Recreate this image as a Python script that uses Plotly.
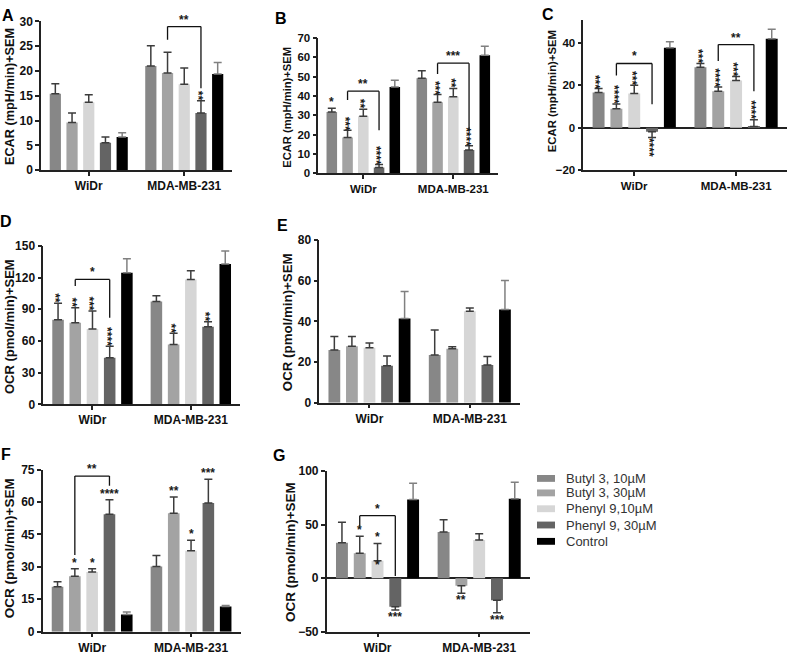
import plotly.graph_objects as go

W, H = 789, 656
FONT = "Liberation Sans, Arial, sans-serif"

groups = ["WiDr", "MDA-MB-231"]
series_names = ["Butyl 3, 10µM", "Butyl 3, 30µM", "Phenyl 9,10µM", "Phenyl 9, 30µM", "Control"]
colors = ["#878787", "#a3a3a3", "#d6d6d6", "#646464", "#000000"]
err_colors = ["#3c3c3c", "#3c3c3c", "#3c3c3c", "#3c3c3c", "#808080"]

# ---- data: per series [WiDr, MDA-MB-231] ----
A_mean = [[15.4, 21.0], [9.6, 19.6], [13.7, 17.3], [5.5, 11.5], [6.7, 19.4]]
A_sem = [[2.0, 4.1], [1.9, 4.2], [1.5, 3.3], [1.2, 2.5], [0.85, 2.3]]

B_mean = [[31.7, 49.2], [18.6, 36.8], [29.5, 39.6], [3.0, 12.1], [44.7, 61.1]]
B_sem = [[2.0, 3.9], [3.7, 4.0], [3.7, 4.3], [1.6, 2.2], [3.4, 4.7]]

C_mean = [[16.6, 28.5], [8.9, 17.2], [16.2, 22.3], [-1.85, 0.6], [37.7, 42.0]]
C_sem = [[1.9, 1.8], [2.3, 2.0], [3.8, 1.9], [2.75, 3.2], [2.8, 4.5]]

D_mean = [[80.0, 97.2], [77.2, 56.5], [71.3, 118.2], [44.1, 73.5], [124.4, 132.7]]
D_sem = [[15.7, 5.6], [14.2, 10.8], [17.0, 8.3], [10.8, 4.6], [13.3, 12.3]]

E_mean = [[25.9, 23.5], [27.8, 26.5], [27.0, 45.0], [18.2, 18.6], [41.4, 45.9]]
E_sem = [[6.7, 12.3], [4.8, 1.0], [2.4, 1.6], [4.8, 4.1], [13.4, 14.3]]

F_mean = [[20.8, 30.2], [25.7, 54.8], [27.6, 37.4], [54.3, 59.6], [8.0, 11.6]]
F_sem = [[2.3, 5.0], [3.4, 7.5], [1.5, 4.9], [6.8, 10.9], [1.1, 0.5]]

G_mean = [[33.1, 43.2], [23.4, -7.0], [16.4, 35.6], [-26.7, -20.7], [73.6, 74.2]]
G_sem = [[19.2, 11.5], [15.8, 7.0], [16.1, 6.0], [3.1, 11.5], [15.2, 15.5]]

# significance marks: (group, bar, text, rotated)
A_stars = [(1, 3, "**", True)]
B_stars = [(0, 0, "*", False), (0, 1, "***", True), (0, 2, "**", True), (0, 3, "****", True),
           (1, 1, "***", True), (1, 2, "**", True), (1, 3, "****", True)]
C_stars = [(0, 0, "***", True), (0, 1, "****", True), (0, 2, "***", True), (0, 3, "****", True),
           (1, 0, "***", True), (1, 1, "****", True), (1, 2, "***", True), (1, 3, "****", True)]
D_stars = [(0, 0, "**", True), (0, 1, "**", True), (0, 2, "***", True), (0, 3, "****", True),
           (1, 1, "**", True), (1, 3, "**", True)]
E_stars = []
F_stars = [(0, 1, "*", False), (0, 2, "*", False), (0, 3, "****", False),
           (1, 1, "**", False), (1, 2, "*", False), (1, 3, "***", False)]
G_stars = [(0, 1, "*", False), (0, 2, "*", False), (0, 3, "***", False),
           (1, 1, "**", False), (1, 3, "***", False)]

# comparison brackets: (group, bar_from, bar_to, y_top, y_left_end, y_right_end, text)
A_brackets = [(1, 1, 3, 28.95, 26.3, 16.5, "**")]
B_brackets = [(0, 1, 3, 42.5, 37.9, 22.3, "**"), (1, 1, 3, 57.0, 51.4, 21.9, "***")]
C_brackets = [(0, 1, 3, 30.3, 24.6, 11.1, "*"), (1, 1, 3, 39.2, 31.5, 17.2, "**")]
D_brackets = [(0, 1, 3, 118.2, 112.0, 82.0, "*")]
E_brackets = []
F_brackets = [(0, 1, 3, 72.0, 35.5, 67.5, "**")]
G_brackets = [(0, 1, 3, 58.4, 48.3, 2.1, "*")]

ECAR = "ECAR (mpH/min)+SEM"
OCR = "OCR (pmol/min)+SEM"

# ---- layout specs (pixels) ----
panels = [
    dict(letter="A", mean=A_mean, sem=A_sem, stars=A_stars, br=A_brackets, yr=[0, 30], tv=[0, 5, 10, 15, 20, 25, 30],
         px=(41, 232), py=(14.7, 166.7), title=ECAR, tsize=12.7, tpos=(10, 92), lpos=(8, 9), fs=12, zl=False),
    dict(letter="B", mean=B_mean, sem=B_sem, stars=B_stars, br=B_brackets, yr=[0, 70], tv=[0, 10, 20, 30, 40, 50, 60, 70],
         px=(318.3, 498.3), py=(31.7, 170), title=ECAR, tsize=11.2, tpos=(287, 103), lpos=(281, 12), fs=11.5, zl=False),
    dict(letter="C", mean=C_mean, sem=C_sem, stars=C_stars, br=C_brackets, yr=[-20, 50.8], tv=[-20, 0, 20, 40],
         px=(583.3, 787), py=(13.3, 166.7), title=ECAR, tsize=11.3, tpos=(552, 86), lpos=(548, 8), fs=11.5, zl=True),
    dict(letter="D", mean=D_mean, sem=D_sem, stars=D_stars, br=D_brackets, yr=[0, 150], tv=[0, 30, 60, 90, 120, 150],
         px=(43.3, 240), py=(244, 406), title=OCR, tsize=13, tpos=(9, 327), lpos=(6, 219), fs=12, zl=False),
    dict(letter="E", mean=E_mean, sem=E_sem, stars=E_stars, br=E_brackets, yr=[0, 80], tv=[0, 20, 40, 60, 80],
         px=(319.3, 520), py=(238.3, 404.3), title=OCR, tsize=13.3, tpos=(287, 322), lpos=(282, 223), fs=12, zl=False),
    dict(letter="F", mean=F_mean, sem=F_sem, stars=F_stars, br=F_brackets, yr=[0, 75], tv=[0, 15, 30, 45, 60, 75],
         px=(42.7, 240.5), py=(472.7, 638.3), title=OCR, tsize=13.5, tpos=(9, 553), lpos=(6, 457), fs=12, zl=False),
    dict(letter="G", mean=G_mean, sem=G_sem, stars=G_stars, br=G_brackets, yr=[-50, 100], tv=[-50, 0, 50, 100],
         px=(326.7, 530), py=(474.3, 638.3), title=OCR, tsize=13.5, tpos=(290, 557), lpos=(279, 458), fs=12, zl=True),
]

BARGAP = 0.125
PITCH = (1 - BARGAP) / 5

fig = go.Figure()
annotations = []
shapes = []
layout = {}

def fx(p):
    return p / W

def fy(p):
    return 1 - p / H

star_font = dict(family=FONT, size=12, color="#1a1a1a", weight="bold")

for i, P in enumerate(panels):
    n = "" if i == 0 else str(i + 1)
    xa, ya = "x" + n, "y" + n
    for k in range(5):
        vals = [P["mean"][k][g] for g in range(2)]
        errs = [P["sem"][k][g] for g in range(2)]
        plus = [e if v >= 0 else 0 for v, e in zip(vals, errs)]
        minus = [0 if v >= 0 else e for v, e in zip(vals, errs)]
        fig.add_trace(go.Bar(
            x=groups, y=vals, name=series_names[k], xaxis=xa, yaxis=ya,
            marker=dict(color=colors[k], line=dict(width=0)),
            error_y=dict(type="data", symmetric=False, array=plus, arrayminus=minus,
                         color=err_colors[k], thickness=1.5, width=4),
            showlegend=False,
        ))
    layout["xaxis" + n] = dict(
        domain=[fx(P["px"][0]), fx(P["px"][1])], anchor=ya, type="category",
        range=[-0.5, 1.5], showline=True, linecolor="#222", linewidth=1.5,
        ticks="outside", ticklen=4, tickwidth=1.5, tickcolor="#222", showgrid=False,
        tickfont=dict(family=FONT, size=P["fs"], color="#111", weight="bold"),
    )
    layout["yaxis" + n] = dict(
        domain=[fy(P["py"][1]), fy(P["py"][0])], anchor=xa, range=P["yr"], tickvals=P["tv"],
        showline=True, linecolor="#222", linewidth=1.5, ticks="outside", ticklen=4, tickwidth=1.5,
        tickcolor="#222", showgrid=False, zeroline=P["zl"], zerolinecolor="#222", zerolinewidth=1.5,
        tickfont=dict(family=FONT, size=P["fs"], color="#111", weight="bold"),
    )
    annotations.append(dict(text=P["letter"], x=fx(P["lpos"][0]), y=fy(P["lpos"][1]), xref="paper", yref="paper",
                            showarrow=False, xanchor="center", yanchor="middle",
                            font=dict(family=FONT, size=16, color="#000", weight="bold")))
    annotations.append(dict(text=P["title"], x=fx(P["tpos"][0]), y=fy(P["tpos"][1]), xref="paper", yref="paper",
                            showarrow=False, textangle=-90, xanchor="center", yanchor="middle",
                            font=dict(family=FONT, size=P["tsize"], color="#111", weight="bold")))
    for (g, k, t, rot) in P["stars"]:
        v = P["mean"][k][g]
        e = P["sem"][k][g]
        xpos = g + (k - 2) * PITCH
        ang = 90 if (rot and len(t) > 1) else 0
        xs = -3 if ang else 0
        if v >= 0:
            annotations.append(dict(text=t, x=xpos, y=v + e, xref=xa, yref=ya, showarrow=False,
                                    textangle=ang, xanchor="center", yanchor="bottom",
                                    yshift=-2 if ang else -3, xshift=xs, font=star_font))
        else:
            annotations.append(dict(text=t, x=xpos, y=v - e, xref=xa, yref=ya, showarrow=False,
                                    textangle=ang, xanchor="center", yanchor="top",
                                    yshift=2, xshift=xs, font=star_font))
    for (g, k0, k1, yt, yl, yrr, t) in P["br"]:
        x0 = g + (k0 - 2) * PITCH
        x1 = g + (k1 - 2) * PITCH
        ln = dict(color="#111", width=1.3)
        shapes.append(dict(type="line", xref=xa, yref=ya, x0=x0, x1=x0, y0=yl, y1=yt, line=ln))
        shapes.append(dict(type="line", xref=xa, yref=ya, x0=x0, x1=x1, y0=yt, y1=yt, line=ln))
        shapes.append(dict(type="line", xref=xa, yref=ya, x0=x1, x1=x1, y0=yt, y1=yrr, line=ln))
        annotations.append(dict(text=t, x=(x0 + x1) / 2, y=yt, xref=xa, yref=ya, showarrow=False,
                                xanchor="center", yanchor="bottom", yshift=-2, font=star_font))

# extra mark inside panel G (Phenyl 9,10µM, WiDr)
annotations.append(dict(text="*", x=0 + (2 - 2) * PITCH, y=G_mean[2][0], xref="x7", yref="y7", showarrow=False,
                        xanchor="center", yanchor="middle", yshift=-4, font=star_font))

# legend (drawn to match the reference's compact spacing)
legend_y = [481.7, 496.5, 512.7, 529.3, 546]
for k in range(5):
    yc = legend_y[k]
    shapes.append(dict(type="rect", xref="paper", yref="paper", x0=fx(537), x1=fx(555),
                       y0=fy(yc + 3.5), y1=fy(yc - 3.5), fillcolor=colors[k], line=dict(width=0)))
    annotations.append(dict(text=series_names[k], x=fx(564), y=fy(yc), xref="paper", yref="paper",
                            showarrow=False, xanchor="left", yanchor="middle",
                            font=dict(family=FONT, size=13, color="#333")))

fig.update_layout(
    width=W, height=H, margin=dict(l=0, r=0, t=0, b=0),
    paper_bgcolor="white", plot_bgcolor="white",
    barmode="group", bargap=BARGAP, bargroupgap=0.33,
    annotations=annotations, shapes=shapes, showlegend=False,
    **layout,
)

fig.write_html("out.html", config={"displayModeBar": False},
               post_script="document.body.style.margin='0';")
